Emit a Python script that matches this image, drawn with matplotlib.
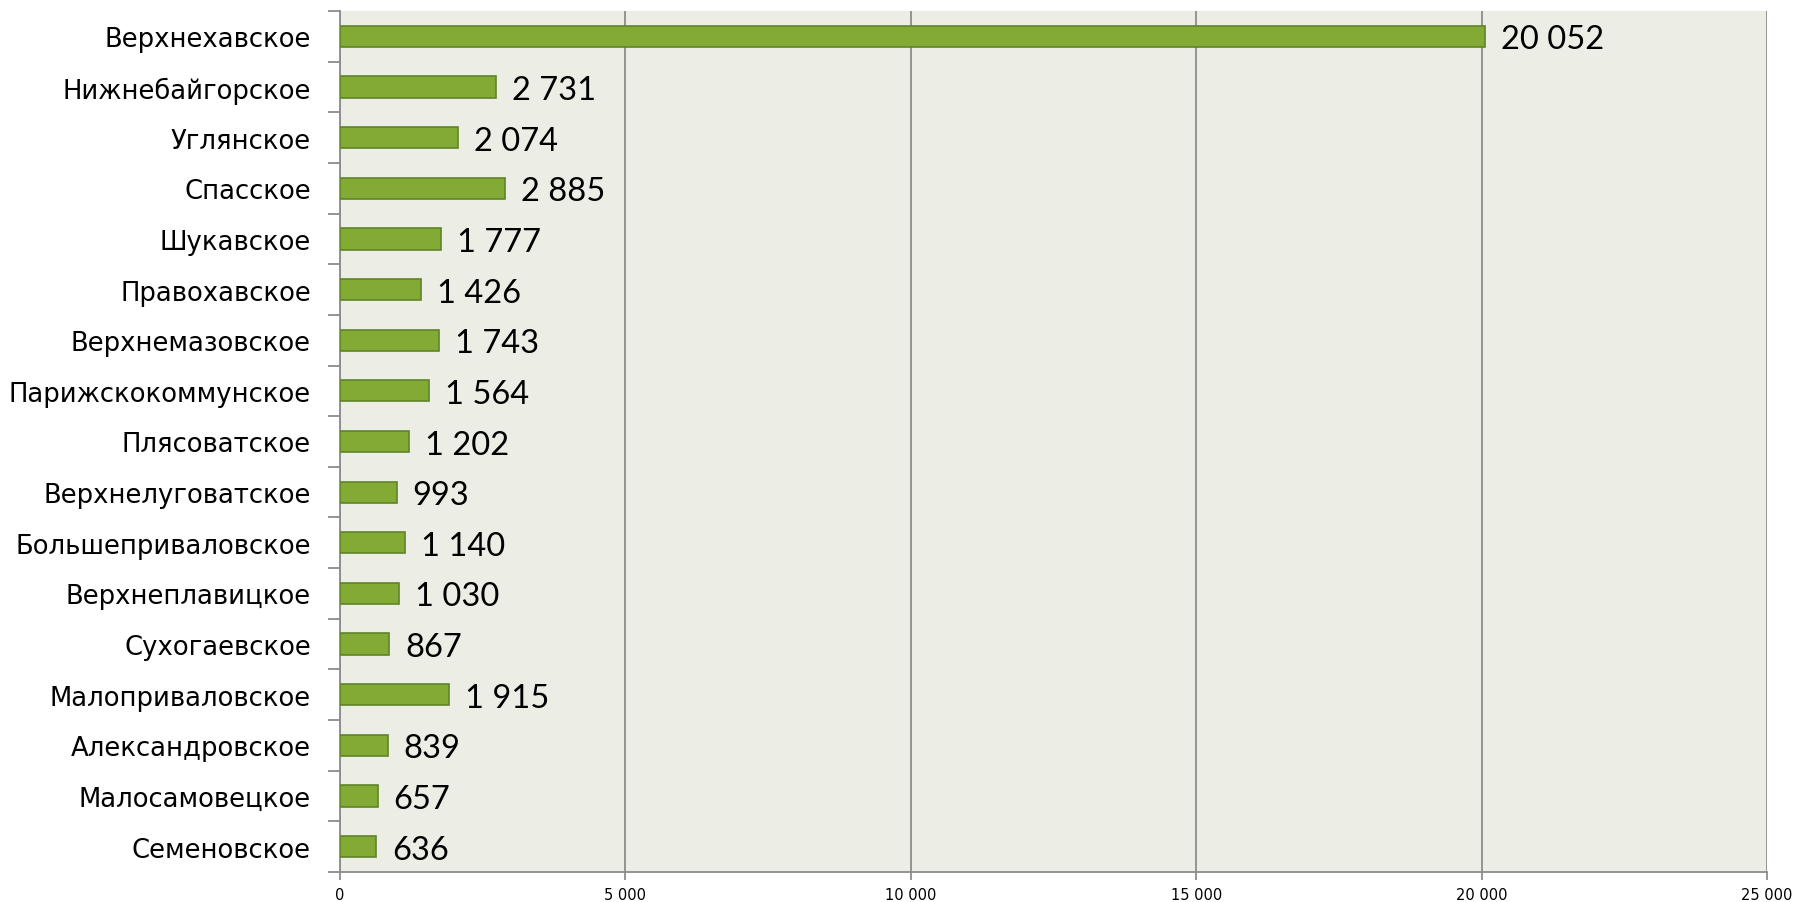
import matplotlib
matplotlib.use("Agg")
import matplotlib.pyplot as plt
import numpy as np

categories = ["Верхнехавское", "Нижнебайгорское", "Углянское", "Спасское", "Шукавское",
              "Правохавское", "Верхнемазовское", "Парижскокоммунское", "Плясоватское",
              "Верхнелуговатское", "Большеприваловское", "Верхнеплавицкое", "Сухогаевское",
              "Малоприваловское", "Александровское", "Малосамовецкое", "Семеновское"]
values = [20052, 2731, 2074, 2885, 1777, 1426, 1743, 1564, 1202, 993, 1140, 1030, 867,
          1915, 839, 657, 636]
xticks = [0, 5000, 10000, 15000, 20000, 25000]


def fmt(v):
    return f"{v:,}".replace(",", " ")


fig = plt.figure(figsize=(17.94, 9.03), dpi=100)
ax = fig.add_axes([340 / 1794, 1 - 873 / 903, (1767 - 340) / 1794, (873 - 12) / 903])
ax.set_facecolor("#ECEEE6")

n = len(categories)
y = np.arange(n)
ax.barh(y, values, height=0.42, color="#84AA36", edgecolor="#5F8427", linewidth=1.2, zorder=3)
for yi, v in zip(y, values):
    ax.text(v + 280, yi + 0.06, fmt(v), va="center", ha="left", fontsize=23.5,
            family=["Lato", "DejaVu Sans"], zorder=4)

ax.set_ylim(n - 0.5, -0.5)
ax.set_xlim(0, 25000)
ax.set_yticks(np.arange(n + 1) - 0.5)
ax.set_yticklabels([])
ax.set_yticks(y, minor=True)
ax.set_yticklabels(categories, minor=True, fontsize=18.6)
ax.tick_params(axis="y", which="minor", length=0, pad=21)
ax.tick_params(axis="y", which="major", length=9, color="#8C8C8C", width=1.3)

ax.set_xticks(xticks)
ax.set_xticklabels([fmt(t) for t in xticks], fontsize=10.5)
ax.tick_params(axis="x", length=6, color="#8C8C8C", width=1.3, pad=5)
ax.grid(axis="x", color="#8C8C8C", linewidth=1.3, zorder=1)

ax.spines["top"].set_visible(False)
ax.spines["right"].set_visible(False)
ax.spines["left"].set_color("#8C8C8C")
ax.spines["bottom"].set_color("#8C8C8C")
ax.spines["left"].set_linewidth(1.3)
ax.spines["bottom"].set_linewidth(1.3)

fig.savefig("out.png", dpi=100)
